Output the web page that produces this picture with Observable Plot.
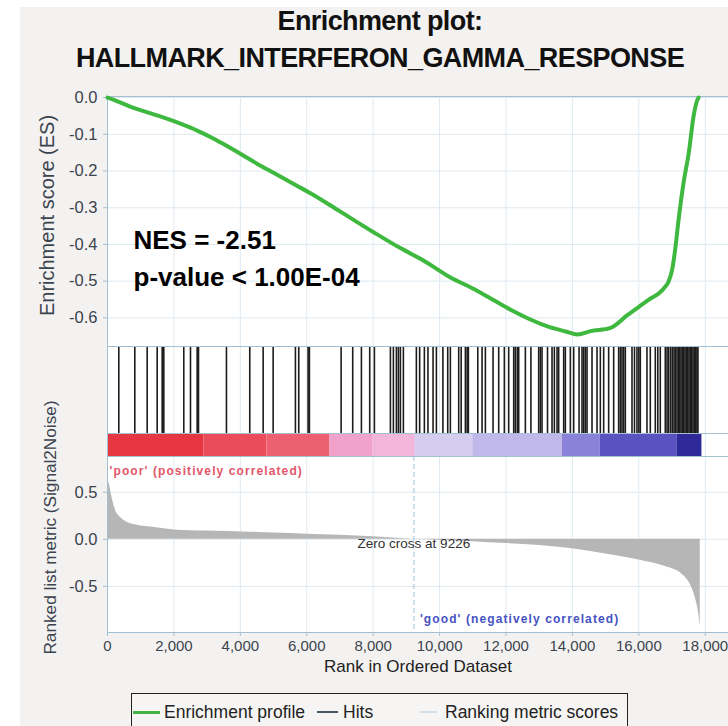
<!DOCTYPE html>
<html><head><meta charset="utf-8">
<script src="https://cdn.jsdelivr.net/npm/d3@7"></script>
<script src="https://cdn.jsdelivr.net/npm/@observablehq/plot@0.6"></script>
<style>
body{margin:0;background:#fff;font-family:"Liberation Sans",Arial,sans-serif;}
#page{position:relative;width:728px;height:726px;overflow:hidden;background:#fff;}
#bg{position:absolute;left:20px;top:7px;right:0;bottom:0;background:#f4f2f0;}
.abs{position:absolute;}
.title{left:0;width:760px;text-align:center;font-weight:bold;font-size:27px;letter-spacing:-0.6px;line-height:30px;color:#111;}
.leg{font-size:17.5px;line-height:20px;color:#222;white-space:nowrap;}
</style></head><body>
<div id="page"><div id="bg"></div>
<div class="abs title" style="top:6px">Enrichment plot:</div>
<div class="abs title" style="top:43px">HALLMARK_INTERFERON_GAMMA_RESPONSE</div>
<div id="es" class="abs" style="left:0;top:86px"></div>
<div id="hits" class="abs" style="left:0;top:346px"></div>
<div id="metric" class="abs" style="left:0;top:456px"></div>
<div id="legend" class="abs" style="left:131px;top:693px;width:495px;height:45px;border:1.5px solid #222;background:#f6f5f3;"></div>
</div>
<script>
// ---------- data ----------
const esRank = [0,300,700,1200,1650,2000,2500,2750,3200,3600,4000,4500,5000,5700,6100,7000,8000,8820,9500,10330,11000,11500,12140,12700,13340,13800,14150,14550,15150,15660,16260,16750,16900,17000,17100,17200,17350,17500,17650,17740,17800];
const esValue = [0,-0.01,-0.025,-0.04,-0.053,-0.064,-0.082,-0.092,-0.112,-0.132,-0.153,-0.18,-0.205,-0.24,-0.26,-0.31,-0.366,-0.41,-0.443,-0.49,-0.52,-0.545,-0.578,-0.603,-0.626,-0.637,-0.645,-0.636,-0.627,-0.592,-0.553,-0.52,-0.5,-0.47,-0.41,-0.33,-0.23,-0.153,-0.05,-0.012,0.0];

const hitRanks = [340,822,1195,1496,1647,1695,2297,2499,2700,2740,3582,4284,4687,4988,5659,5759,6040,6080,7035,7384,7646,7896,8037,8519,8609,8700,8760,8820,8910,9301,9400,9542,9650,9803,9904,10100,10245,10325,10576,10650,10777,10830,10867,11150,11279,11379,11610,11780,11950,12081,12232,12280,12340,12382,12583,12750,12984,13035,13085,13250,13386,13456,13537,13586,13737,13787,13938,14038,14200,14289,14340,14390,14440,14590,14741,14841,14941,15091,15242,15392,15442,15493,15543,15593,15794,15869,15944,16000,16044,16245,16345,16496,16571,16646,16797,16850,16900,16960,17010,17060,17100,17149,17190,17230,17270,17310,17350,17390,17430,17470,17510,17550,17590,17630,17670,17710,17750,17780];

const bandStart = [0,2900,4800,6700,8000,9270,11000,13700,14840,17160];
const bandEnd   = [2900,4800,6700,8000,9270,11000,13700,14840,17160,17900];
const bandColor = ["#e6363f","#ea4c5a","#ec6070","#f0a2cc","#f2b6da","#d4cdf0","#c0b8ea","#8a82d8","#5a52c0","#2e2a9a"];

const metricRank = [0,60,120,240,400,600,900,1300,2000,3000,4300,5000,6000,7000,8000,9226,10000,11000,12000,13000,14000,15000,16000,16800,17300,17550,17700,17800,17850];
const metricValue = [0.64,0.58,0.47,0.31,0.23,0.18,0.15,0.13,0.1,0.088,0.076,0.066,0.055,0.043,0.028,0,-0.01,-0.025,-0.045,-0.065,-0.1,-0.155,-0.22,-0.29,-0.37,-0.48,-0.62,-0.78,-0.92];

const rankTicks = [0,2000,4000,6000,8000,10000,12000,14000,16000,18000];
const esTicks = [0,-0.1,-0.2,-0.3,-0.4,-0.5,-0.6];
const metricTicks = [0.5,0,-0.5];
const zeroCross = 9226;
const statLines = ["NES = -2.51","p-value < 1.00E-04"];
const esLabel = "Enrichment score (ES)";
const metricLabel = "Ranked list metric (Signal2Noise)";
const xLabel = "Rank in Ordered Dataset";
const poorLabel = "'poor' (positively correlated)";
const goodLabel = "'good' (negatively correlated)";
const zeroLabel = "Zero cross at " + zeroCross;
const legendItems = ["Enrichment profile","Hits","Ranking metric scores"];

// ---------- tables ----------
const esData = esRank.map((r,i)=>({rank:r, es:esValue[i]}));
const metricData = metricRank.map((r,i)=>({rank:r, m:metricValue[i]}));
const bandData = bandStart.map((s,i)=>({start:s, end:bandEnd[i], color:bandColor[i]}));

// ---------- style ----------
const FONT = '"Liberation Sans", Arial, sans-serif';
const W = 728, ML = 107;
const xDomain = [0, 18700];
const gridColor = "#dfe9f1";
const frameColor = "#a3bfd2";
const tickColor = "#3b444e";
const baseStyle = {background:"transparent", overflow:"visible", fontFamily: FONT, color: tickColor};

// ES panel
const es = Plot.plot({
  width: W, height: 260, marginLeft: ML, marginRight: 0, marginTop: 10, marginBottom: 0,
  style: baseStyle,
  x: {domain: xDomain, axis: null},
  y: {domain: [-0.678, 0.003], axis: null},
  marks: [
    Plot.frame({fill: "white"}),
    Plot.gridX(rankTicks, {stroke: gridColor, strokeOpacity: 1}),
    Plot.gridY(esTicks, {stroke: gridColor, strokeOpacity: 1}),
    Plot.frame({stroke: frameColor}),
    Plot.axisY(esTicks, {tickFormat: d => d.toFixed(1), tickSize: 4, tickPadding: 6, stroke: frameColor, fontSize: 16.5, fill: tickColor, label: null}),
    Plot.line(esData, {x: "rank", y: "es", stroke: "#3fb83f", strokeWidth: 4, strokeLinejoin: "round", curve: "monotone-x"}),
    Plot.text([statLines.join("\n")], {text: d => d, frameAnchor: "top-left", dx: 26, dy: 126, lineAnchor: "top", lineHeight: 1.42, textAnchor: "start", fontSize: 26, fontWeight: "bold", fill: "#000"}),
    Plot.text([esLabel], {text: d => d, frameAnchor: "left", textAnchor: "middle", dx: -60, dy: -6, rotate: -90, fontSize: 20, fill: tickColor})
  ]
});
document.getElementById("es").append(es);

// Hits + colour band
const hits = Plot.plot({
  width: W, height: 110, marginLeft: ML, marginRight: 0, marginTop: 0, marginBottom: 0,
  style: baseStyle,
  x: {domain: xDomain, axis: null},
  y: {domain: [0, 110], axis: null},
  color: {type: "identity"},
  marks: [
    Plot.frame({fill: "white"}),
    Plot.gridX(rankTicks, {stroke: gridColor, strokeOpacity: 1}),
    Plot.rect(bandData, {x1: "start", x2: "end", y1: 0, y2: 23, fill: "color"}),
    Plot.ruleX(hitRanks, {y1: 23, y2: 109, stroke: "#1c1c1c", strokeWidth: 1.6}),
    Plot.ruleY([23], {stroke: frameColor}),
    Plot.frame({stroke: frameColor})
  ]
});
document.getElementById("hits").append(hits);

// Ranked metric panel
const metric = Plot.plot({
  width: W, height: 234, marginLeft: ML, marginRight: 0, marginTop: 0, marginBottom: 58,
  style: baseStyle,
  x: {domain: xDomain, axis: null},
  y: {domain: [-0.99, 0.88], axis: null},
  marks: [
    Plot.frame({fill: "white"}),
    Plot.gridX(rankTicks, {stroke: gridColor, strokeOpacity: 1}),
    Plot.gridY(metricTicks, {stroke: gridColor, strokeOpacity: 1}),
    Plot.areaY(metricData, {x: "rank", y1: 0, y2: "m", fill: "#b6b6b6", curve: "monotone-x"}),
    Plot.ruleX([zeroCross], {stroke: "#9cc2da", strokeDasharray: "5,3"}),
    Plot.frame({stroke: frameColor}),
    Plot.axisY(metricTicks, {tickFormat: d => d.toFixed(1), tickSize: 4, tickPadding: 6, stroke: frameColor, fontSize: 16.5, fill: tickColor, label: null}),
    Plot.axisX(rankTicks, {tickFormat: d3.format(","), tickSize: 4, tickPadding: 4, stroke: frameColor, fontSize: 15, fill: tickColor, label: null}),
    Plot.text([xLabel], {text: d => d, frameAnchor: "bottom", dy: 39, fontSize: 17, fill: "#222"}),
    Plot.text([metricLabel], {text: d => d, frameAnchor: "left", textAnchor: "middle", dx: -57, dy: -17, rotate: -90, fontSize: 17.2, fill: tickColor}),
    Plot.text([zeroLabel], {text: d => d, x: zeroCross, y: 0, dy: 4, fontSize: 13.5, fill: "#333"}),
    Plot.text([poorLabel], {text: d => d, frameAnchor: "top-left", dx: 2, dy: 10, textAnchor: "start", fontSize: 12, fontWeight: "bold", fill: "#e2566a", className: "spaced"}),
    Plot.text([goodLabel], {text: d => d, x: zeroCross, frameAnchor: "bottom", dx: 6, dy: -10, textAnchor: "start", fontSize: 12, fontWeight: "bold", fill: "#4652c4", className: "spaced"})
  ]
});
document.getElementById("metric").append(metric);
d3.select(metric).selectAll("g.spaced text").style("letter-spacing", "1.1px");

// ---------- legend ----------
const leg = document.getElementById("legend");
const legSpec = [
  {line: [1, 28], color: "#44b444", h: 3, text: legendItems[0], tx: 32},
  {line: [185, 206], color: "#405868", h: 2, text: legendItems[1], tx: 211},
  {line: [288, 305], color: "#d3e0e9", h: 2, text: legendItems[2], tx: 313}
];
legSpec.forEach(s => {
  const l = document.createElement("div");
  l.className = "abs";
  l.style.cssText = `left:${s.line[0]}px;top:${18 - s.h/2}px;width:${s.line[1]-s.line[0]}px;height:${s.h}px;background:${s.color}`;
  leg.append(l);
  const t = document.createElement("div");
  t.className = "abs leg";
  t.style.cssText = `left:${s.tx}px;top:8px`;
  t.textContent = s.text;
  leg.append(t);
});
</script>
</body></html>
